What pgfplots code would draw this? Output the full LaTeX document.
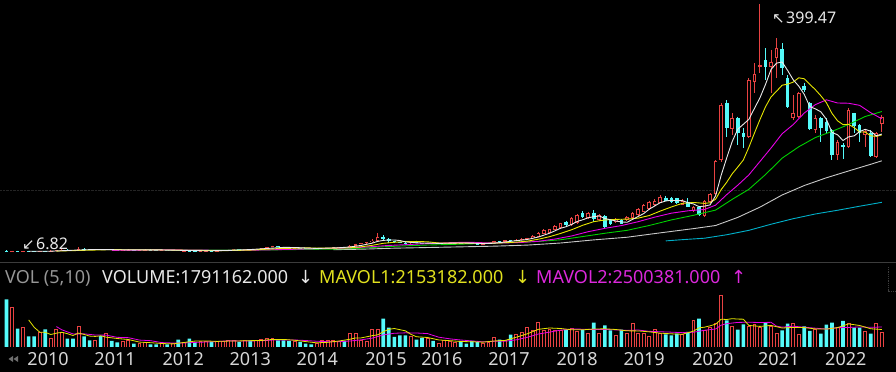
\documentclass[border=0pt]{standalone}
\usepackage{pgfplots}
\pgfplotsset{compat=1.18}
\usepackage{pgfplotstable}
\usepackage{fontspec}
\setmainfont{Noto Sans}
\newfontfamily\symfont{DejaVu Sans}
\definecolor{cred}{RGB}{232,66,66}
\definecolor{ccyan}{RGB}{84,250,250}
\definecolor{cmaA}{RGB}{235,235,235}
\definecolor{cmaB}{RGB}{230,230,0}
\definecolor{cmaC}{RGB}{230,0,230}
\definecolor{cmaD}{RGB}{0,210,0}
\definecolor{cmaE}{RGB}{200,200,200}
\definecolor{cmaF}{RGB}{0,175,200}
\definecolor{ctext}{RGB}{232,232,232}
\definecolor{cgray}{RGB}{150,150,150}
\definecolor{ctick}{RGB}{215,215,215}
\definecolor{cyel}{RGB}{225,225,30}
\definecolor{cmag}{RGB}{220,40,220}
\definecolor{cline}{RGB}{60,60,60}
\definecolor{cgrid}{RGB}{36,36,36}
\definecolor{cicon}{RGB}{110,110,110}
\pgfplotsset{
  up/.style={restrict expr to domain={\thisrow{d}}{0.5:1.5}},
  down/.style={restrict expr to domain={\thisrow{d}}{-0.5:0.5}},
  stick/.style 2 args={draw=none, no marks, error bars/.cd, y dir=minus, y explicit, error mark=none,
    error bar style={draw=#1, line width=#2}},
  base/.style={at={(0,0)}, anchor=south west, scale only axis, width=896bp,
    xmin=-1.173, xmax=160.56, axis line style={draw=none}, major tick length=0pt,
    tick style={draw=none}},
}
\pgfplotstableread{
i o h l c v d
0 9.0 9.6 7.6 8.0 5.72 0
1 8.0 9.0 7.4 8.6 4.72 1
2 8.6 8.8 6.82 7.6 2.20 0
3 7.6 8.6 7.2 8.2 2.32 1
4 8.2 8.9 7.4 7.8 1.28 0
5 7.8 8.2 7.0 7.4 1.28 0
6 7.4 8.8 7.2 8.4 1.80 1
7 8.4 9.0 7.6 8.0 2.12 0
8 8.0 9.2 7.8 8.8 1.00 1
9 8.8 10.0 8.6 9.6 2.08 1
10 9.6 11.0 9.4 10.4 1.80 1
11 10.4 10.8 9.5 9.8 1.00 0
12 9.8 10.2 9.0 9.4 1.00 0
13 9.4 14.5 9.2 12.0 2.48 1
14 12.0 12.6 10.8 11.0 1.28 0
15 11.0 11.4 10.2 10.6 0.80 0
16 10.6 11.6 10.4 11.0 0.80 1
17 11.0 11.4 10.0 10.2 1.32 0
18 10.2 11.2 10.0 10.8 1.68 1
19 10.8 11.0 9.8 10.2 0.72 0
20 10.2 10.6 9.6 9.8 0.56 0
21 9.8 10.4 9.5 10.0 0.72 1
22 10.0 10.8 9.8 10.4 0.80 1
23 10.4 10.6 9.8 10.0 0.40 0
24 10.0 10.6 9.8 10.2 0.48 1
25 10.2 11.0 10.0 10.6 0.60 1
26 10.6 10.8 10.0 10.2 0.32 0
27 10.2 10.4 9.4 9.6 0.32 0
28 9.6 10.2 9.4 9.9 0.40 1
29 9.9 10.0 9.2 9.4 0.32 0
30 9.4 10.0 9.2 9.7 0.48 1
31 9.7 9.8 8.6 8.8 0.88 0
32 8.8 9.4 8.6 9.2 0.60 1
33 9.2 9.3 8.3 8.5 1.00 0
34 8.5 8.8 8.0 8.2 0.60 0
35 8.2 8.8 8.0 8.6 0.72 1
36 8.6 9.2 8.4 9.0 0.72 1
37 9.0 9.2 8.4 8.6 0.60 0
38 8.6 9.2 8.5 9.0 0.72 1
39 9.0 9.8 8.8 9.6 0.72 1
40 9.6 10.4 9.4 10.2 0.80 1
41 10.2 11.0 10.0 10.8 0.80 1
42 10.8 11.0 10.2 10.4 0.60 0
43 10.4 11.4 10.2 11.2 0.80 1
44 11.2 11.4 10.6 10.8 0.80 0
45 10.8 11.8 10.6 11.6 0.80 1
46 11.6 12.8 11.4 12.6 0.88 1
47 12.6 14.6 12.4 14.2 1.08 1
48 14.2 17.0 14.0 15.6 1.00 1
49 15.6 16.2 14.2 14.6 0.80 0
50 14.6 15.0 13.4 13.6 0.80 0
51 13.6 14.0 12.6 12.8 0.72 0
52 12.8 13.6 12.6 13.2 0.72 1
53 13.2 13.4 12.4 12.6 0.60 0
54 12.6 12.8 12.0 12.2 0.40 0
55 12.2 12.4 11.6 11.8 0.32 0
56 11.8 12.4 11.6 12.2 0.48 1
57 12.2 13.2 12.0 13.0 0.80 1
58 13.0 13.8 12.8 13.6 0.80 1
59 13.6 14.4 13.4 14.2 0.80 1
60 14.2 15.0 14.0 14.8 0.72 1
61 14.8 15.0 14.0 14.2 0.72 0
62 14.2 17.4 14.0 17.0 1.60 1
63 17.0 19.8 16.8 19.5 1.60 1
64 19.5 21.0 19.0 20.5 0.80 1
65 20.5 22.6 20.0 22.0 0.72 1
66 22.0 27.0 21.6 25.0 2.08 1
67 25.0 36.4 24.0 31.0 2.08 1
68 31.0 33.5 25.0 27.4 3.40 0
69 27.4 29.0 21.0 23.5 2.32 0
70 23.5 24.5 21.0 22.0 1.20 0
71 22.0 23.0 20.4 21.0 1.40 0
72 21.0 22.0 19.8 20.5 1.40 0
73 20.5 22.6 20.2 22.0 1.28 1
74 22.0 22.4 20.6 21.0 0.88 0
75 21.0 21.4 19.6 20.0 1.08 0
76 20.0 21.4 19.8 21.0 1.08 1
77 21.0 21.2 19.6 20.0 0.72 0
78 20.0 20.8 19.6 20.4 0.48 1
79 20.4 21.4 20.2 21.0 0.80 1
80 21.0 21.8 20.6 21.5 0.72 1
81 21.5 22.2 21.2 21.8 0.60 1
82 21.8 22.0 20.8 21.0 0.72 0
83 21.0 21.2 20.0 20.4 0.40 0
84 20.4 20.6 19.6 19.8 0.72 0
85 19.8 20.0 18.8 19.2 0.60 0
86 19.2 20.2 19.0 19.8 0.48 1
87 19.8 21.2 19.6 20.8 0.60 1
88 20.8 25.0 20.6 24.0 1.20 1
89 24.0 24.6 22.4 23.0 0.88 0
90 23.0 26.0 22.8 25.5 0.80 1
91 25.5 26.0 24.0 24.6 1.48 0
92 24.6 27.0 24.2 26.6 1.48 1
93 26.6 28.6 26.0 27.8 1.80 1
94 27.8 29.6 27.0 28.6 2.32 1
95 28.5 33.0 28.0 32.1 2.00 1
96 31.0 38.5 30.5 37.4 3.00 1
97 35.3 42.5 34.8 41.6 2.00 1
98 37.4 43.5 36.8 42.7 2.08 1
99 41.6 49.0 41.0 48.0 2.00 1
100 44.3 53.5 43.8 52.2 2.00 1
101 54.8 56.5 48.5 49.6 2.08 0
102 49.6 61.5 48.5 60.2 2.20 1
103 52.2 67.0 51.0 65.4 1.92 1
104 69.0 71.0 60.2 61.7 2.08 0
105 60.2 70.0 59.0 68.1 1.68 1
106 69.0 73.3 54.8 58.6 2.92 0
107 57.5 66.5 56.5 65.4 1.60 1
108 63.8 65.0 44.3 45.9 2.60 0
109 57.5 59.0 50.0 51.1 2.00 0
110 54.8 60.0 53.5 58.6 1.40 1
111 57.5 59.0 50.5 51.1 2.08 0
112 57.5 64.0 56.5 62.7 1.60 1
113 60.2 69.5 59.5 68.1 2.88 1
114 65.4 76.0 64.5 74.4 1.68 1
115 70.6 82.5 70.0 81.2 1.68 1
116 74.4 88.0 73.5 86.4 1.28 1
117 81.2 90.0 80.0 88.0 2.08 1
118 84.9 96.5 84.0 94.4 1.60 1
119 92.8 95.5 86.8 88.0 1.52 0
120 92.8 94.0 85.0 86.4 1.40 0
121 91.8 93.0 82.5 83.9 1.60 0
122 82.0 90.0 81.0 88.0 1.52 1
123 86.4 91.8 77.6 78.5 1.80 0
124 71.2 79.0 70.0 77.6 3.20 1
125 78.5 80.0 63.8 65.4 3.40 0
126 63.8 89.0 63.0 87.6 2.00 1
127 86.4 100.0 85.0 98.2 2.32 1
128 98.2 152.0 97.0 150.9 2.80 1
129 152.5 242.0 150.0 239.5 6.20 1
130 243.2 247.4 188.4 202.6 3.20 0
131 201.0 226.4 192.0 218.5 2.48 1
132 218.5 221.0 176.2 194.7 2.08 0
133 194.7 202.6 171.0 189.3 2.72 0
134 189.3 281.8 188.0 279.1 2.48 1
135 276.4 305.5 258.0 288.6 2.68 1
136 300.2 399.47 290.0 302.8 2.40 1
137 310.8 329.3 279.1 300.2 2.92 0
138 300.2 326.6 258.0 308.1 2.48 1
139 313.4 345.0 281.8 329.3 1.60 1
140 328.2 337.2 287.0 297.6 2.00 0
141 281.8 287.0 234.3 235.9 2.80 0
142 218.5 255.3 215.8 226.4 2.88 1
143 221.0 260.6 218.5 258.0 1.48 1
144 269.6 274.8 260.6 263.3 2.48 0
145 242.2 244.7 199.9 201.0 1.92 0
146 199.9 223.7 194.7 218.5 2.08 1
147 218.5 221.0 181.4 202.6 1.60 0
148 213.1 218.5 194.7 198.8 2.68 0
149 199.9 201.0 152.5 160.4 2.92 0
150 160.4 184.1 152.5 181.4 2.32 1
151 176.2 178.9 153.6 173.5 3.12 0
152 173.5 234.3 171.0 231.6 2.80 1
153 226.4 227.3 194.7 206.3 2.32 0
154 207.9 209.4 181.4 194.7 2.32 0
155 192.0 199.9 173.5 198.8 1.92 1
156 195.7 199.9 157.7 158.8 1.60 0
157 157.7 197.2 155.1 194.7 2.88 1
158 209.4 223.7 197.2 221.0 1.79 1
}\candles
\begin{document}
\begin{tikzpicture}
\useasboundingbox (0,0) rectangle (896bp,372bp);
\fill[black] (0,0) rectangle (896bp,372bp);
% ---------- price panel ----------
\begin{axis}[base, at={(0,109bp)}, height=263bp,
  ymin=-10.59, ymax=405.74, xtick=\empty, ytick={105}, yticklabels={},
  ymajorgrids, major grid style={densely dotted, draw=cgrid, line width=0.6bp}]
% wicks
\addplot[up, stick={cred}{1bp}]
  table[x=i, y=h, y error minus expr=\thisrow{h}-\thisrow{l}]{\candles};
\addplot[down, stick={ccyan}{1bp}]
  table[x=i, y=h, y error minus expr=\thisrow{h}-\thisrow{l}]{\candles};
% bodies
\addplot[up, stick={cred}{3.6bp}]
  table[x=i, y=c, y error minus expr={max(\thisrow{c}-\thisrow{o},1.6)}]{\candles};
\addplot[up, stick={black}{1.8bp}]
  table[x=i, y expr=\thisrow{c}-1.42, y error minus expr={max(\thisrow{c}-\thisrow{o}-2.84,0)}]{\candles};
\addplot[down, stick={ccyan}{3.6bp}]
  table[x=i, y=o, y error minus expr={max(\thisrow{o}-\thisrow{c},1.6)}]{\candles};
% moving averages
\addplot[cmaF, line width=0.9bp] coordinates {(119,24.41) (122,26.36) (126,28.67) (130,34.13) (134,41.12) (138,50.76) (142,59.5) (146,67) (150,72.87) (154,79.3) (158,85.45)};
\addplot[cmaE, line width=0.9bp] coordinates {(59,10.47) (64,11.24) (70,12.87) (76,13.9) (82,14.97) (88,16.03) (94,17.74) (100,21.05) (106,25.99) (112,30.17) (118,37.12) (124,43.83) (128,48.77) (132,61.58) (136,77.84) (140,97.04) (144,112.05) (148,124.34) (152,135.1) (156,145.67) (158,151.19)};
\addplot[cmaD, line width=0.9bp] coordinates {(29,9.6) (35,9.78) (41,9.85) (47,10.07) (53,10.78) (59,11.35) (64,12.73) (68,15.07) (72,16.61) (76,17.87) (80,18.7) (84,19.77) (88,20.88) (92,22.19) (96,23.49) (100,26.18) (104,31.26) (108,36.48) (112,41.08) (116,48.78) (120,57.56) (124,64.91) (128,73.19) (131,90.21) (134,106.07) (137,129.39) (140,155.37) (143,173.3) (146,188) (149,197.7) (152,208.7) (155,221.3) (158,229.2)};
\addplot[cmaC, line width=0.9bp] coordinates {(19,9.39) (24,9.9) (29,10.28) (34,9.87) (39,9.47) (44,9.62) (49,10.56) (54,11.56) (59,12.56) (63,13.7) (66,15.33) (69,17.2) (72,18.4) (75,19.72) (78,20.85) (81,21.9) (84,22.1) (87,21.2) (90,21.19) (93,21.96) (96,23.77) (99,27.31) (102,32.2) (105,38.99) (108,44.25) (111,48.64) (114,54.75) (117,61.97) (120,68.27) (123,72.03) (126,74.14) (128,81.03) (130,97.65) (132,112.6) (134,128.9) (136,150.1) (138,171.4) (140,194) (142,208.5) (144,226.8) (146,240.1) (148,247.7) (150,242.7) (152,242.3) (154,238.95) (156,227.3) (158,217.6)};
\addplot[cmaB, line width=0.9bp] coordinates {(9,8.24) (14,9.48) (19,10.54) (24,10.32) (29,10.01) (34,9.41) (39,8.92) (44,9.82) (49,12.2) (54,13.3) (59,12.92) (62,13.56) (64,15.08) (66,17.38) (68,20.56) (70,22.21) (72,23.24) (74,23.54) (76,22.94) (78,21.14) (80,20.84) (82,20.97) (84,20.69) (86,20.49) (88,20.93) (90,21.53) (92,22.37) (94,23.99) (96,27.04) (98,30.99) (100,36.16) (102,42.02) (104,49.09) (106,54.81) (108,57.51) (110,58.46) (112,58.86) (114,60.4) (116,64.49) (118,71.6) (120,78.07) (122,83.88) (124,85.24) (126,83.78) (127,84.8) (128,90.45) (129,105.6) (130,117.22) (131,130.68) (132,141.35) (133,152.43) (134,172.58) (135,194.9) (136,216.42) (137,236.62) (138,252.34) (139,261.32) (140,270.82) (141,272.56) (142,275.73) (143,282.6) (144,281.02) (145,272.26) (146,263.83) (147,254.07) (148,243.14) (149,226.25) (150,214.63) (151,208.39) (152,208.91) (153,203.74) (154,196.88) (155,196.66) (156,190.69) (157,189.9) (158,192.12)};
\addplot[cmaA, line width=0.9bp] coordinates {(4,8.04) (8,8.08) (12,9.6) (16,10.8) (20,10.4) (24,10.08) (28,10.1) (32,9.4) (36,8.7) (40,9.28) (44,10.68) (48,12.96) (50,14.12) (52,13.96) (56,12.4) (60,13.56) (62,14.76) (64,17.2) (66,20.8) (67,23.6) (68,25.18) (69,25.78) (70,25.78) (71,24.98) (72,22.88) (74,21.3) (76,20.9) (78,20.48) (80,20.78) (82,21.14) (84,20.9) (86,20.04) (88,20.72) (90,22.62) (92,24.74) (94,26.62) (96,30.5) (97,33.5) (98,36.48) (99,40.36) (100,44.38) (101,46.82) (102,50.54) (103,55.08) (104,57.82) (105,61) (106,62.8) (107,63.84) (108,59.94) (109,57.82) (110,55.92) (111,54.42) (112,53.88) (113,58.32) (114,62.98) (115,67.5) (116,74.56) (117,79.62) (118,84.88) (119,87.6) (120,88.64) (121,88.14) (122,88.14) (123,84.96) (124,82.88) (125,78.68) (126,79.42) (127,81.46) (128,95.94) (129,128.32) (130,155.76) (131,181.94) (132,201.24) (133,208.92) (134,216.84) (135,234.04) (136,250.9) (137,272) (138,295.76) (139,305.8) (140,307.6) (141,294.22) (142,279.46) (143,269.44) (144,256.24) (145,236.92) (146,233.44) (147,228.68) (148,216.84) (149,196.26) (150,192.34) (151,183.34) (152,189.14) (153,190.64) (154,197.5) (155,200.98) (156,198.04) (157,190.66) (158,193.6)};
\end{axis}
% ---------- volume panel ----------
\begin{axis}[base, at={(0,25bp)}, height=57bp, ymin=0, ymax=6.84, ytick=\empty,
  xtick={7.5,19.6,31.9,44.0,56.1,68.5,78.6,90.7,103.0,115.1,127.5,139.4,151.5},
  xticklabels={2010,2011,2012,2013,2014,2015,2016,2017,2018,2019,2020,2021,2022},
  xticklabel style={font=\fontsize{18bp}{18bp}\selectfont, text=ctick, anchor=north, inner sep=0pt, yshift=-5.7bp}]
\addplot[ybar, bar width=2.9bp, bar shift=0pt, draw=cred, fill=black, line width=0.9bp, up]
  table[x=i, y=v]{\candles};
\addplot[ybar, bar width=3.6bp, bar shift=0pt, draw=none, fill=ccyan, down]
  table[x=i, y=v]{\candles};
\addplot[cmaC, line width=0.8bp] coordinates {(9,2.45) (10,2.06) (12,1.57) (14,1.58) (16,1.44) (18,1.42) (20,1.16) (22,1.12) (24,0.83) (26,0.76) (28,0.53) (30,0.48) (32,0.48) (34,0.55) (36,0.60) (38,0.66) (40,0.74) (42,0.73) (44,0.73) (46,0.75) (48,0.83) (50,0.84) (52,0.84) (54,0.78) (56,0.69) (58,0.64) (60,0.64) (62,0.72) (64,0.86) (66,1.06) (68,1.45) (70,1.65) (72,1.70) (74,1.68) (76,1.61) (78,1.18) (80,0.98) (82,0.84) (84,0.73) (86,0.62) (88,0.68) (90,0.70) (92,0.86) (94,1.16) (96,1.56) (98,1.78) (100,2.02) (102,2.15) (104,2.14) (106,2.10) (108,2.11) (110,2.05) (112,1.99) (114,2.04) (116,1.88) (118,1.83) (120,1.78) (122,1.72) (124,1.77) (126,2.01) (128,2.16) (129,2.62) (130,2.80) (132,2.95) (134,2.97) (136,2.94) (138,2.96) (139,2.50) (140,2.38) (142,2.50) (144,2.37) (146,2.26) (148,2.15) (150,2.32) (152,2.34) (154,2.41) (156,2.36) (158,2.40)};
\addplot[cmaB, line width=0.8bp] coordinates {(4,3.25) (5,2.36) (6,1.78) (7,1.76) (8,1.50) (9,1.66) (10,1.76) (11,1.6) (12,1.38) (13,1.67) (14,1.51) (15,1.31) (16,1.27) (17,1.34) (18,1.18) (20,1.02) (22,0.9) (24,0.59) (26,0.52) (28,0.42) (30,0.37) (32,0.54) (34,0.71) (36,0.73) (38,0.67) (40,0.71) (42,0.73) (44,0.76) (46,0.78) (48,0.91) (50,0.91) (52,0.81) (54,0.65) (56,0.50) (58,0.56) (60,0.72) (62,0.93) (63,1.09) (64,1.09) (66,1.36) (67,1.46) (68,1.82) (69,2.12) (70,2.22) (71,2.08) (72,1.94) (73,1.52) (74,1.23) (76,1.14) (78,0.85) (80,0.76) (82,0.66) (84,0.63) (86,0.58) (88,0.72) (90,0.79) (92,1.17) (94,1.58) (96,2.12) (98,2.28) (100,2.22) (102,2.07) (104,2.06) (106,2.16) (108,2.18) (110,2.10) (112,1.94) (114,1.93) (116,1.82) (118,1.66) (120,1.58) (122,1.53) (124,1.90) (125,2.30) (126,2.38) (127,2.54) (128,2.74) (129,3.34) (130,3.30) (131,3.40) (132,3.35) (133,3.34) (134,2.59) (136,2.47) (138,2.59) (140,2.28) (142,2.35) (144,2.33) (146,2.17) (148,2.15) (150,2.32) (152,2.77) (154,2.58) (156,2.19) (158,2.10)};
\end{axis}
% ---------- frame, header and annotations ----------
\draw[cline, line width=1bp] (0,109bp) -- (896bp,109bp);
\draw[cline, densely dotted, line width=0.8bp] (888bp,105bp) -- (888bp,81bp) -- (896bp,81bp);
\begin{scope}[every node/.style={inner sep=0pt, anchor=base west, font=\fontsize{18bp}{20bp}\selectfont}]
\node[text=cgray] at (5bp,88.5bp) {VOL (5,10)};
\node[text=ctext] at (102bp,88.5bp) {VOLUME:1791162.000};
\node[text=ctext, font=\fontsize{18bp}{20bp}\symfont] at (298bp,88.5bp) {↓};
\node[text=cyel] at (319bp,88.5bp) {MAVOL1:2153182.000};
\node[text=cyel, font=\fontsize{18bp}{20bp}\symfont] at (515bp,88.5bp) {↓};
\node[text=cmag] at (536bp,88.5bp) {MAVOL2:2500381.000};
\node[text=cmag, font=\fontsize{18bp}{20bp}\symfont] at (731bp,88.5bp) {↑};
\node[text=ctext, font=\fontsize{16bp}{18bp}\selectfont] at (786bp,348bp) {399.47};
\node[text=ctext, anchor=base east, font=\fontsize{15bp}{18bp}\symfont] at (785bp,348bp) {↖};
\node[text=ctext, font=\fontsize{16bp}{18bp}\selectfont] at (36bp,122.7bp) {6.82};
\node[text=ctext, anchor=base east, font=\fontsize{15bp}{18bp}\symfont] at (35bp,122.7bp) {↙};
\end{scope}
\fill[cicon] (8.5bp,13bp) -- (13bp,16bp) -- (13bp,10bp) -- cycle;
\fill[cicon] (13.5bp,13bp) -- (18bp,16bp) -- (18bp,10bp) -- cycle;
\end{tikzpicture}
\end{document}
